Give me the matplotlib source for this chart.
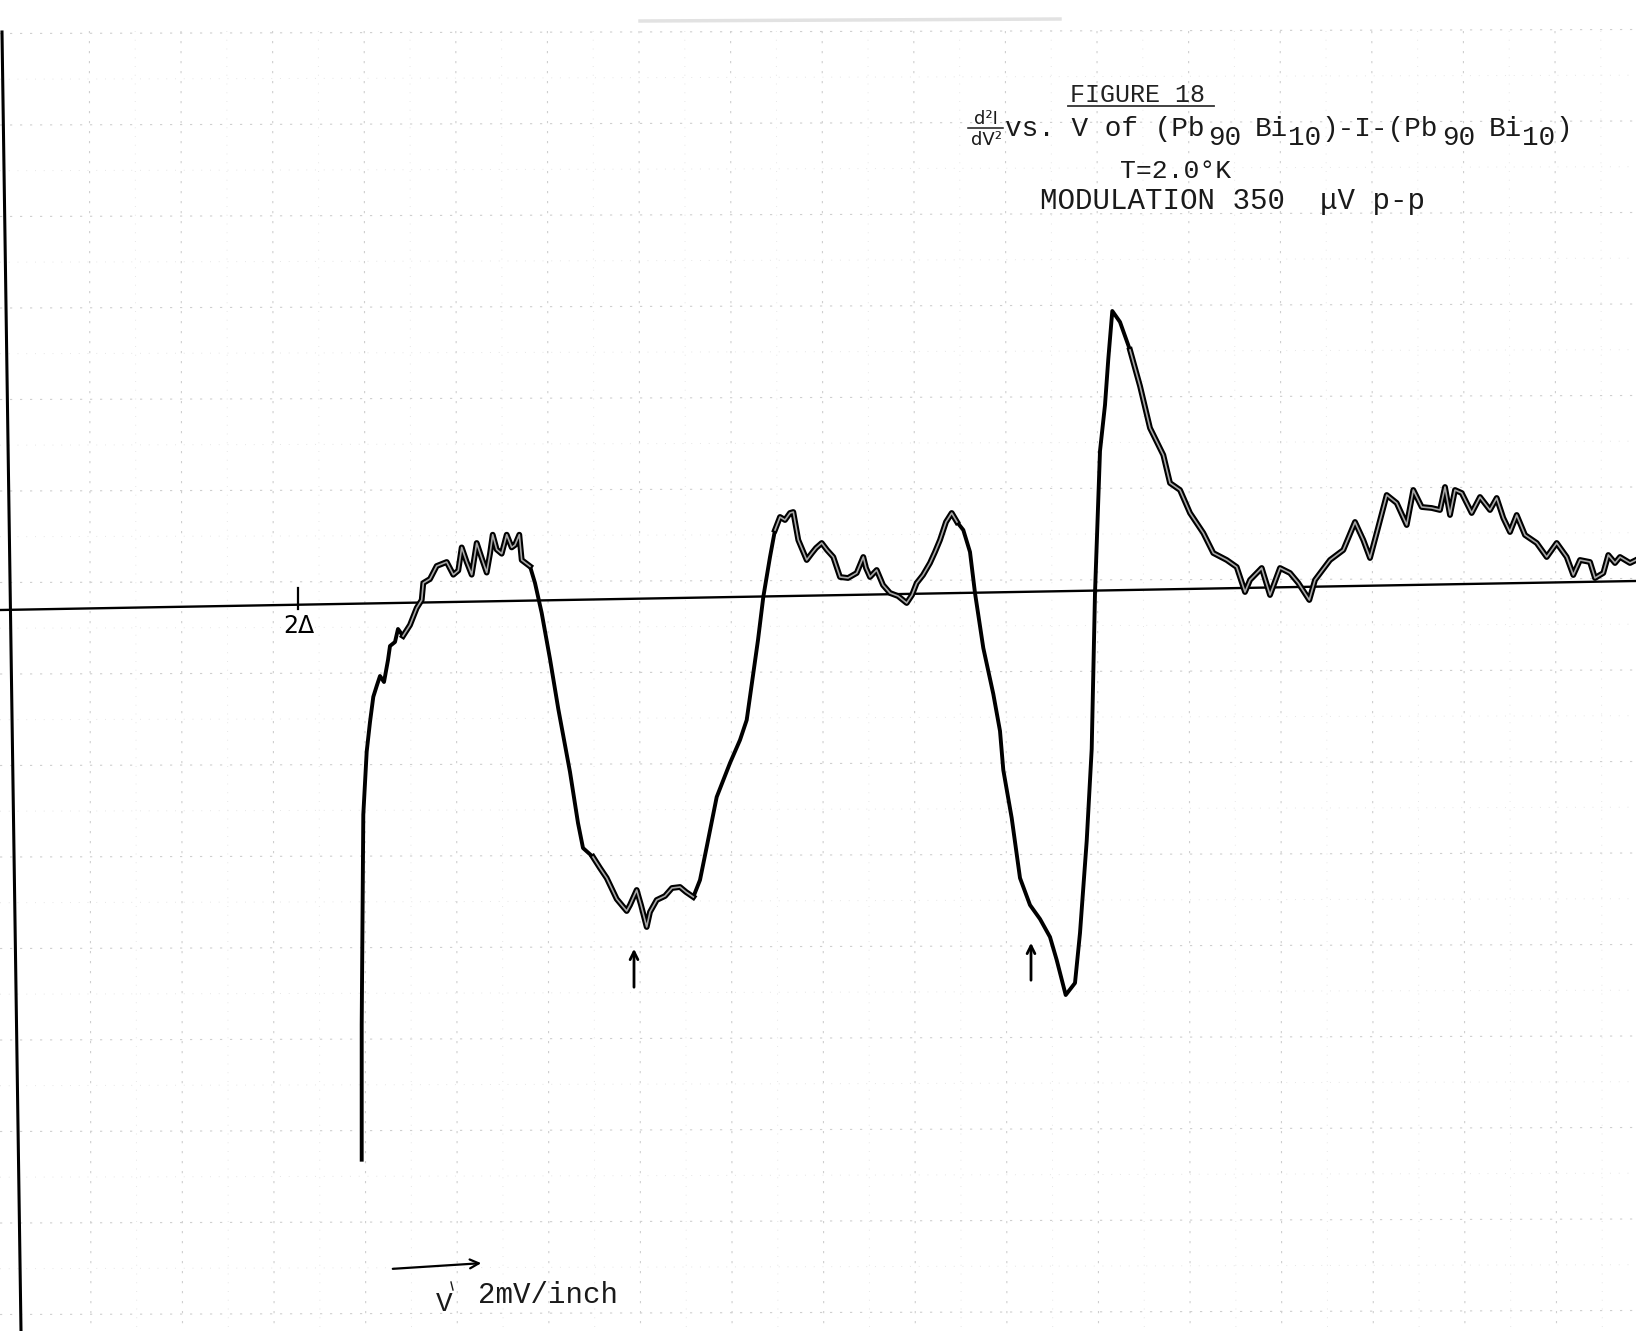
import numpy as np
import matplotlib
matplotlib.use("Agg")
import matplotlib.pyplot as plt

trace_x = [361.7, 361.7, 361.7, 362.5, 363.3, 366.7, 370, 373.3, 376.7, 380, 384, 388, 390, 395,
           398, 403, 410, 416.7, 421.7, 423.3, 430, 436.7, 446.7, 453.3, 458.3, 461.7, 466.7,
           471.7, 476.7, 481.7, 486.7, 490, 492.7, 496.7, 501.7, 506.7, 511.7, 515, 519.3,
           521.7, 530, 535, 541.7, 550, 558.3, 570, 578, 583, 593, 600, 606.7, 616.7, 626.7,
           630, 636.7, 641, 646.7, 650, 656.7, 665, 672, 680, 686, 693.3, 700, 706.7, 716.7,
           730, 740, 746.7, 753.3, 758, 763.3, 770, 775, 780, 785, 790, 793.3, 798.3, 806.7,
           812, 816, 821.7, 827, 833.3, 840, 848, 856.7, 863.3, 866, 870, 876.7, 883, 890, 898,
           906.7, 912, 916.7, 923, 930, 935, 940, 946, 951.7, 957, 963.3, 970, 975, 983.3,
           993.3, 1000, 1003.3, 1011.7, 1020, 1030, 1040, 1050, 1056.7, 1065.7, 1075, 1080,
           1086.7, 1091.7, 1095, 1100, 1105, 1108.3, 1112.3, 1120, 1130, 1140, 1150, 1163.3,
           1170, 1180, 1190, 1203.3, 1213.3, 1226.7, 1236.7, 1245, 1250, 1261.7, 1270, 1280,
           1290, 1298.3, 1309.3, 1315, 1330, 1343.3, 1355, 1363.3, 1370, 1376.7, 1386.7,
           1396.7, 1406.7, 1413.3, 1421.7, 1431.7, 1440, 1445, 1450, 1455, 1461.7, 1471.7,
           1480, 1490, 1496.7, 1503.3, 1510, 1516.7, 1525, 1536.7, 1546.7, 1556.7, 1566.7,
           1573.3, 1580, 1590, 1595, 1603.3, 1608.3, 1615, 1620, 1630, 1636]
trace_y = [1159.7, 1100, 1025, 920, 814.6, 751.5, 722, 696.8, 686, 676, 682, 660, 646, 642,
           629, 636, 625, 608, 600, 583, 579, 566, 562, 574.7, 570.5, 547.4, 562,
           574.7, 543, 558, 572.6, 553.7, 534.7, 549.5, 553.7, 534.7, 547.4, 545, 534.7,
           560, 566.3, 583, 613, 659, 709, 772, 823, 848, 857, 868, 878, 899, 911,
           905, 890, 905, 927, 912, 900, 896, 888, 887, 892, 897, 880, 847, 797,
           763, 740, 720, 673, 640, 597, 557, 530, 517, 520, 513, 512, 540, 560,
           553, 548, 543, 550, 557, 577, 578, 573, 557, 568, 577, 570, 585, 593, 596,
           603, 595, 583, 575, 563, 552, 540, 522, 513, 522, 530, 552, 593, 648,
           694, 731, 770, 818, 878, 905, 919, 937, 960, 995, 983, 933,
           841, 749, 593, 451, 405, 359, 311, 322, 350, 386, 428, 455,
           483, 490, 513, 533, 553, 560, 567, 592, 580, 568, 595, 568,
           573, 583, 600, 580, 560, 550, 522, 540, 558, 533, 495,
           503, 525, 490, 507, 508, 510, 487, 515, 490, 493, 513,
           497, 510, 498, 518, 532, 515, 535, 543, 557, 543, 557,
           575, 560, 562, 578, 573, 555, 563, 557, 563, 560]

zero_line_x = [0, 1636]
zero_line_y = [610, 581]
left_axis_x = [2, 21]
left_axis_y = [32, 1331]
gap_tick_x = 298          # position of the 2-Delta mark
gap_label = "2\u0394"
marker_arrows_x = [634, 1031]
marker_arrows_y0 = [990, 983]
marker_arrows_y1 = [946, 940]

title_lines = ["FIGURE 18", "T=2.0\u00b0K", "MODULATION 350  \u03bcV p-p"]
xlabel_text = "2mV/inch"

# ---------------------------------------------------------------------------
W, H = 1636, 1331
fig = plt.figure(figsize=(W / 100, H / 100), dpi=100)
ax = fig.add_axes([0, 0, 1, 1])
ax.set_xlim(0, W)
ax.set_ylim(H, 0)
ax.axis("off")
fig.patch.set_facecolor("white")

mono = ["Liberation Mono", "DejaVu Sans Mono"]

# faint graph-paper grid
for gx in np.arange(181 - 91.6, W, 91.6):
    ax.plot([gx, gx + 1.5], [31, H], color="#cfcfcf", lw=0.8, ls=(0, (2, 7)), zorder=0)
    ax.plot([gx + 45.8, gx + 47.3], [31, H], color="#e6e6e6", lw=0.7, ls=(0, (1, 8)), zorder=0)
for gy in np.arange(123 - 91.5, H, 91.5):
    ax.plot([0, W], [gy + 2, gy - 2], color="#cfcfcf", lw=0.8, ls=(0, (2, 7)), zorder=0)
    ax.plot([0, W], [gy + 47.7, gy + 43.7], color="#e6e6e6", lw=0.7, ls=(0, (1, 8)), zorder=0)
ax.plot([640, 1060], [21, 19], color="#e2e2e2", lw=2.5, zorder=0)

# axes lines
ax.plot(left_axis_x, left_axis_y, color="black", lw=2.2, zorder=2)
ax.plot(zero_line_x, zero_line_y, color="black", lw=1.7, zorder=2)
ax.plot([gap_tick_x, gap_tick_x], [588, 609], color="black", lw=1.6, zorder=2)
ax.text(gap_tick_x + 1, 626, gap_label, ha="center", va="center", fontsize=17,
        family=["DejaVu Sans"], color="black")

# trace (pen line with a hollow look in noisy parts)
tx = np.array(trace_x)
ty = np.array(trace_y)
ax.plot(tx, ty, color="black", lw=2.8, solid_joinstyle="round", zorder=3)
noisy = ((tx > 400) & (tx < 535)) | ((tx > 585) & (tx < 700)) | \
        ((tx > 770) & (tx < 960)) | ((tx > 1120) & (tx <= W))
ty_n = np.where(noisy, ty, np.nan)
ax.plot(tx, ty_n, color="black", lw=4.2, solid_joinstyle="round", zorder=3)
ax.plot(tx, ty_n, color="#a8a8a8", lw=1.2, solid_joinstyle="round", zorder=4)

# marker arrows
for x, y0, y1 in zip(marker_arrows_x, marker_arrows_y0, marker_arrows_y1):
    ax.annotate("", xy=(x, y1), xytext=(x, y0),
                arrowprops=dict(arrowstyle="->", lw=2.0, color="black",
                                mutation_scale=14))

# title block
ax.text(1070, 102, title_lines[0], ha="left", va="baseline", fontsize=18,
        family=mono, color="#222222")
ax.plot([1068, 1214], [106, 106], color="#333333", lw=1.3)

fs = 20
adv = fs * 100 / 72 * 0.6
x0 = 1005
base, sub = 136, 145
pieces = [("vs. V of (Pb", base, 0), ("90", sub, 12.2), ("Bi", base, 15.0),
          ("10", sub, 17.0), (")-I-(Pb", base, 19.0), ("90", sub, 26.2),
          ("Bi", base, 29.0), ("10", sub, 31.0), (")", base, 33.0)]
for s, yb, off in pieces:
    ax.text(x0 + off * adv, yb, s, ha="left", va="baseline", fontsize=fs,
            family=mono, color="#1a1a1a")
# hand-written d2I/dV2
ax.text(986, 124, "d\u00b2I", ha="center", va="baseline", fontsize=13,
        family=["DejaVu Sans"], color="#1a1a1a")
ax.plot([968, 1003], [128, 128], color="#1a1a1a", lw=1.1)
ax.text(986, 145, "dV\u00b2", ha="center", va="baseline", fontsize=13,
        family=["DejaVu Sans"], color="#1a1a1a")

ax.text(1120, 178, title_lines[1], ha="left", va="baseline", fontsize=19,
        family=mono, color="#1a1a1a")
ax.text(1040, 209, title_lines[2], ha="left", va="baseline", fontsize=21,
        family=mono, color="#1a1a1a")

# voltage direction label
ax.annotate("", xy=(484, 1263), xytext=(390, 1269),
            arrowprops=dict(arrowstyle="->", lw=1.6, color="black", mutation_scale=16))
ax.text(436, 1311, "V", ha="left", va="baseline", fontsize=fs, family=mono, color="#1a1a1a")
ax.plot([451, 453], [1282, 1290], color="#1a1a1a", lw=1.0)
ax.text(478, 1303, xlabel_text, ha="left", va="baseline", fontsize=21,
        family=mono, color="#1a1a1a")

fig.savefig("out.png", dpi=100, facecolor="white")
